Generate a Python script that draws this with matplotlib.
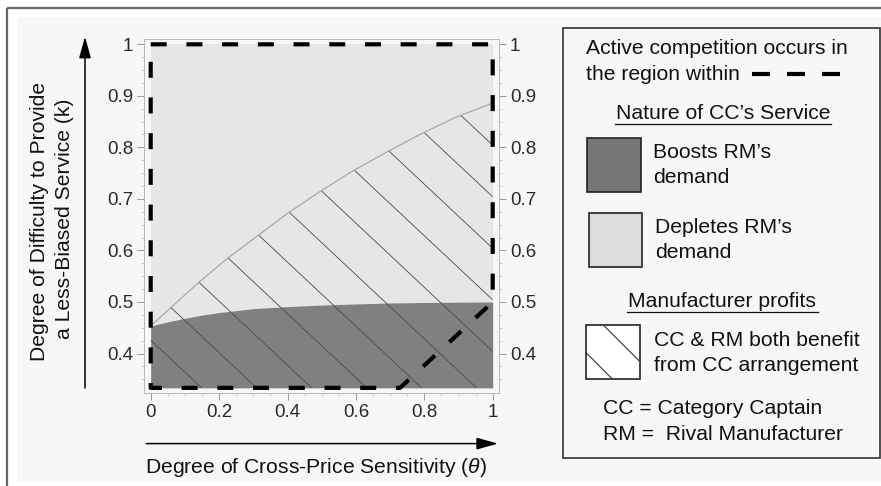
import matplotlib as mpl
import matplotlib.pyplot as plt
import numpy as np
from matplotlib.patches import Rectangle, FancyArrowPatch

# region where the CC's service boosts RM's demand (top edge of dark area)
theta_low = [0, 0.05, 0.1, 0.15, 0.2, 0.3, 0.4, 0.5, 0.6, 0.7, 0.8, 0.9, 1.0]
k_low = [0.4533, 0.4615, 0.4684, 0.4745, 0.4795, 0.4870, 0.4910, 0.4940, 0.4962, 0.4980, 0.4990, 0.4996, 0.500]

# both manufacturers benefit below this curve (hatched)
theta_up = [0, 0.064, 0.144, 0.227, 0.312, 0.40, 0.49, 0.585, 0.685, 0.787, 0.89, 1.0]
k_up = [0.4535, 0.492, 0.540, 0.586, 0.628, 0.672, 0.712, 0.752, 0.789, 0.825, 0.858, 0.886]

# active competition region (dashed outline)
theta_comp = [0, 1, 1, 0.729, 0, 0]
k_comp = [1, 1, 0.5, 1 / 3, 1 / 3, 1]

k_min = 1 / 3
x_ticks = [0, 0.2, 0.4, 0.6, 0.8, 1]
x_tick_labels = ["0", "0.2", "0.4", "0.6", "0.8", "1"]
y_ticks = [0.4, 0.5, 0.6, 0.7, 0.8, 0.9, 1]
y_tick_labels = ["0.4", "0.5", "0.6", "0.7", "0.8", "0.9", "1"]

W, H = 881, 486
mpl.rcParams["font.family"] = ["Liberation Sans", "DejaVu Sans"]
mpl.rcParams["mathtext.fontset"] = "custom"
mpl.rcParams["mathtext.it"] = "Liberation Sans:italic"

fig = plt.figure(figsize=(W / 100, H / 100), dpi=100)
fig.patch.set_facecolor("white")

# overlay axes in pixel coordinates for frame, legend box and arrows
ov = fig.add_axes([0, 0, 1, 1], zorder=0)
ov.set_xlim(0, W)
ov.set_ylim(H, 0)
ov.axis("off")
ov.add_patch(Rectangle((17, 17), W - 17, 465, facecolor="#f7f7f7", edgecolor="none"))
ov.plot([7, W], [8, 8], color="#666666", lw=1.6, solid_capstyle="butt")
ov.plot([7, 7], [8, H], color="#666666", lw=1.6, solid_capstyle="butt")

# main plot
ax = fig.add_axes([144.3 / W, 1 - 393.3 / H, (499 - 144.3) / W, (393.3 - 39) / H], zorder=2)
ax.set_facecolor("#f7f7f7")
ax.set_xlim(-0.0187, 1.0184)
ax.set_ylim(0.3228, 1.0103)

ax.fill_between([0, 1], k_min, 1, color="#e6e6e6", lw=0)
ax.fill_between(theta_low, k_min, k_low, color="#808080", lw=0)
hatch_reg = ax.fill_between(theta_up, k_min, k_up, facecolor="none", lw=0)
clip = hatch_reg.get_paths()[0]

slope = 0.622
for j in range(15):
    tb = 0.149 + 0.1608 * j
    xs = np.array([0, 1])
    ln, = ax.plot(xs, k_min + slope * (tb - xs), color="#4a4a4a", lw=0.6)
    ln.set_clip_path(clip, ax.transData)

ax.plot(theta_up, k_up, color="#a8a8a8", lw=0.9)
ax.plot(theta_comp, k_comp, color="black", lw=3.0, linestyle=(0, (3.84, 4.73)),
        dash_capstyle="butt", solid_joinstyle="miter")

for s in ax.spines.values():
    s.set_color("#b8b8b8")
    s.set_linewidth(0.7)
ax.set_xticks(x_ticks, labels=x_tick_labels)
ax.set_yticks(y_ticks, labels=y_tick_labels)
ax.set_xticks(np.arange(0, 1.001, 0.05), minor=True)
ax.set_yticks(np.arange(0.35, 1.0, 0.025), minor=True)
ax.yaxis.set_ticks_position("both")
ax.tick_params(which="major", direction="out", length=5, width=0.7, color="#999999",
               labelsize=13.5, labelcolor="#2a2a2a", pad=3)
ax.tick_params(axis="y", labelright=True)
ax.tick_params(which="minor", direction="out", length=2, width=0.5, color="#bbbbbb")

# axis arrows and labels
fs = 15.2
tc = "#111111"
ov.add_patch(FancyArrowPatch((85, 388), (85, 36.7), arrowstyle="-|>,head_length=1.3,head_width=0.36",
                             mutation_scale=10, color="black", lw=1.1, shrinkA=0, shrinkB=0))
ov.add_patch(FancyArrowPatch((146.4, 443.6), (498, 443.6), arrowstyle="-|>,head_length=1.3,head_width=0.36",
                             mutation_scale=10, color="black", lw=1.1, shrinkA=0, shrinkB=0))
ov.text(316.5, 467.5, r"Degree of Cross-Price Sensitivity ($\theta$)", fontsize=fs,
        color=tc, ha="center", va="center")
ov.text(39.4, 221, "Degree of Difficulty to Provide", rotation=90, fontsize=fs,
        color=tc, ha="center", va="center")
ov.text(64.4, 219.3, "a Less-Biased Service (k)", rotation=90, fontsize=fs,
        color=tc, ha="center", va="center")

# legend box
ov.add_patch(Rectangle((563, 28), 316.5, 430, facecolor="#f7f7f7", edgecolor="#333333", lw=1.2))
ov.text(586, 49, "Active competition occurs in", fontsize=fs, color=tc, va="center")
ov.text(586, 75, "the region within", fontsize=fs, color=tc, va="center")
ov.plot([752, 840], [74.3, 74.3], color="black", lw=3.0, linestyle=(0, (4.32, 4.08)),
        dash_capstyle="butt")
ov.text(723, 113, "Nature of CC\u2019s Service", fontsize=fs, color=tc, va="center", ha="center")
ov.plot([615, 830.7], [124.3, 124.3], color=tc, lw=0.9)
ov.add_patch(Rectangle((587.3, 137.7), 53.7, 54, facecolor="#777777", edgecolor="#222222", lw=1.2))
ov.text(653, 152.7, "Boosts RM\u2019s", fontsize=fs, color=tc, va="center")
ov.text(653, 177.7, "demand", fontsize=fs, color=tc, va="center")
ov.add_patch(Rectangle((588.7, 212.7), 53.6, 54, facecolor="#dcdcdc", edgecolor="#222222", lw=1.2))
ov.text(655, 227.7, "Depletes RM\u2019s", fontsize=fs, color=tc, va="center")
ov.text(655, 252.7, "demand", fontsize=fs, color=tc, va="center")
ov.text(722.3, 301.7, "Manufacturer profits", fontsize=fs, color=tc, va="center", ha="center")
ov.plot([626.7, 817.7], [312.3, 312.3], color=tc, lw=0.9)
ov.add_patch(Rectangle((586, 325.3), 54, 54, facecolor="white", edgecolor="#222222", lw=1.2))
ov.plot([604.3, 639], [326, 360.7], color="#333333", lw=0.8)
ov.plot([586.7, 612.3], [353.3, 379], color="#333333", lw=0.8)
ov.text(654.3, 340, "CC & RM both benefit", fontsize=fs, color=tc, va="center")
ov.text(654.3, 365.7, "from CC arrangement", fontsize=fs, color=tc, va="center")
ov.text(603.3, 408.7, "CC = Category Captain", fontsize=fs, color=tc, va="center")
ov.text(603.3, 434.3, "RM =  Rival Manufacturer", fontsize=fs, color=tc, va="center")

fig.savefig("out.png", dpi=100)
